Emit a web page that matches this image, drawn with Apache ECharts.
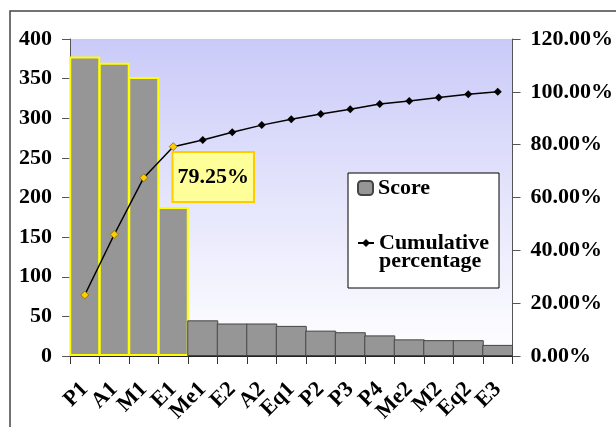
<!DOCTYPE html>
<html>
<head>
<meta charset="utf-8">
<title>Pareto chart</title>
<script src="https://cdn.jsdelivr.net/npm/echarts@6/dist/echarts.min.js"></script>
<style>
  html, body { margin: 0; padding: 0; background: #fff; }
  #main { width: 616px; height: 427px; }
</style>
</head>
<body>
<div id="main"></div>
<script>
// categories along the x axis
const categories = ["P1", "A1", "M1", "E1", "Me1", "E2", "A2", "Eq1", "P2", "P3", "P4", "Me2", "M2", "Eq2", "E3"];
// score of each category (left axis)
const scores = [378, 370, 352, 188, 45, 41, 41, 38, 32, 30, 26, 21, 20, 20, 14];
// cumulative percentage (right axis)
const cumulative = [23.1, 46.0, 67.5, 79.25, 81.8, 84.7, 87.4, 89.6, 91.6, 93.4, 95.4, 96.5, 97.9, 99.1, 100];
// axis ticks
const leftTicks = [0, 50, 100, 150, 200, 250, 300, 350, 400];
const rightTicks = [0, 20, 40, 60, 80, 100, 120];
// how many leading categories are highlighted
const highlightCount = 4;

const font = "'Liberation Serif', 'Times New Roman', serif";
const myChart = echarts.init(document.querySelector("#main"));

const option = {
  animation: false,
  backgroundColor: "#fff",
  textStyle: { fontFamily: font },
  grid: {
    left: 70,
    right: 103,
    top: 39,
    bottom: 71,
    show: true,
    borderWidth: 0,
    // lavender to white background of the plot area
    backgroundColor: {
      type: "linear",
      x: 0, y: 0, x2: 0, y2: 1,
      colorStops: [
        { offset: 0, color: "#cacaf9" },
        { offset: 1, color: "#ffffff" },
      ],
    },
  },
  xAxis: {
    type: "category",
    data: categories,
    boundaryGap: true,
    axisLine: { lineStyle: { color: "#222", width: 1 } },
    axisTick: { show: true, length: 8, lineStyle: { color: "#333" } },
    axisLabel: {
      interval: 0,
      rotate: 45,
      margin: 30,
      color: "#000",
      fontFamily: font,
      fontWeight: "bold",
      fontSize: 22,
    },
  },
  yAxis: [
    {
      type: "value",
      min: leftTicks[0],
      max: leftTicks[leftTicks.length - 1],
      interval: leftTicks[1] - leftTicks[0],
      axisLine: { show: true, lineStyle: { color: "#555" } },
      axisTick: { show: true, length: 8, lineStyle: { color: "#555" } },
      splitLine: { show: false },
      axisLabel: {
        margin: 18,
        color: "#000",
        fontFamily: font,
        fontWeight: "bold",
        fontSize: 22,
      },
    },
    {
      type: "value",
      position: "right",
      min: rightTicks[0],
      max: rightTicks[rightTicks.length - 1],
      interval: rightTicks[1] - rightTicks[0],
      axisLine: { show: true, lineStyle: { color: "#555" } },
      axisTick: { show: true, length: 8, lineStyle: { color: "#555" } },
      splitLine: { show: false },
      axisLabel: {
        margin: 18,
        color: "#000",
        fontFamily: font,
        fontWeight: "bold",
        fontSize: 22,
        formatter: (v) => v.toFixed(2) + "%",
      },
    },
  ],
  legend: [
    {
      data: ["Score"],
      left: 352,
      top: 172,
      orient: "vertical",
      itemWidth: 15,
      itemHeight: 14,
      textStyle: { color: "#000", fontFamily: font, fontWeight: "bold", fontSize: 22, lineHeight: 22 },
    },
    {
      data: ["Cumulative percentage"],
      left: 352,
      top: 209,
      orient: "vertical",
      itemWidth: 16,
      itemHeight: 10,
      // empty first line keeps the icon level with "Cumulative"
      formatter: () => "\u00a0\nCumulative\npercentage",
      textStyle: {
        color: "#000",
        fontFamily: font,
        fontWeight: "bold",
        fontSize: 22,
        lineHeight: 18,
      },
    },
  ],
  graphic: [
    // outer frame of the chart
    {
      type: "rect",
      shape: { x: 10, y: 11, width: 700, height: 500 },
      style: { fill: "none", stroke: "#444", lineWidth: 1.5 },
      z: 0,
    },
    // legend box
    {
      type: "rect",
      shape: { x: 348, y: 173, width: 151, height: 115 },
      style: { fill: "#fff", stroke: "#000", lineWidth: 1 },
      z: 3,
    },
  ],
  series: [
    {
      name: "Score",
      type: "bar",
      yAxisIndex: 0,
      // a little wider than the band so neighbours touch without a seam
      barWidth: 31,
      itemStyle: { color: "#969696", borderColor: "#444", borderWidth: 1 },
      data: scores.map((v, i) =>
        i < highlightCount
          ? { value: v, itemStyle: { borderColor: "#ffff00", borderWidth: 2 } }
          : v
      ),
      z: 2,
    },
    {
      name: "Cumulative percentage",
      type: "line",
      yAxisIndex: 1,
      symbol: "diamond",
      symbolSize: 8,
      lineStyle: { color: "#000", width: 1.5 },
      itemStyle: { color: "#000" },
      data: cumulative.map((v, i) => {
        const item = { value: v };
        if (i < highlightCount) {
          item.itemStyle = { color: "#ffcc00", borderColor: "#8a6a00", borderWidth: 0.8 };
        }
        // the callout box for the last highlighted point
        if (i === highlightCount - 1) {
          item.label = {
            show: true,
            position: "bottom",
            distance: 2,
            offset: [40, 0],
            formatter: (p) => p.value.toFixed(2) + "%",
            color: "#000",
            fontFamily: font,
            fontWeight: "bold",
            fontSize: 22,
            lineHeight: 22,
            backgroundColor: "#ffff99",
            borderColor: "#ffcc00",
            borderWidth: 2,
            padding: [13, 4, 13, 4],
          };
        }
        return item;
      }),
      z: 4,
    },
  ],
};
myChart.setOption(option);
</script>
</body>
</html>
